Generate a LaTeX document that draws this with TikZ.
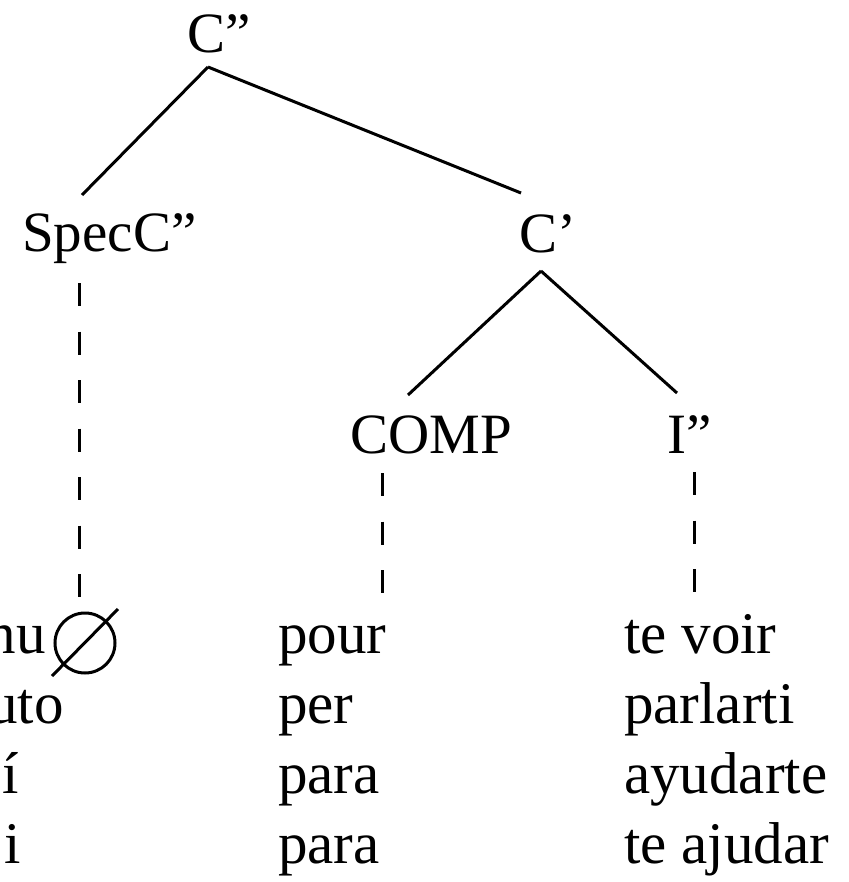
\documentclass[tikz,border=0pt]{standalone}
\usepackage{fontspec}
\setmainfont{Liberation Serif}
\usepackage{tikz}

\begin{document}
\begin{tikzpicture}[x=1pt, y=-1pt, every node/.style={font=\fontsize{57pt}{68pt}\selectfont, inner sep=0pt},
    lbl/.style={anchor=base west}, lblr/.style={anchor=base east},
    word/.style={lbl, font=\fontsize{59pt}{70pt}\selectfont}, wordr/.style={lblr, font=\fontsize{59pt}{70pt}\selectfont},
    branch/.style={line width=3pt}, trace/.style={line width=3pt, dash pattern=on 23pt off 25.5pt}]
        \useasboundingbox (0,0) rectangle (848,882);
        \clip (0,0) rectangle (848,882);
        % tree labels
        \node (cbar) [lbl] at (187,53) {C”};
        \node (spec) [lbl] at (22,252) {SpecC”};
        \node (cprime) [lbl] at (519,253) {C’};
        \node (comp) [lbl] at (350,453) {COMP};
        \node (ibar) [lbl] at (667,453) {I”};
        % empty specifier
        \node (zero) [circle, draw, line width=3pt, minimum size=60pt] at (85,643) {};
        \draw[branch] ([xshift=-33pt, yshift=-33pt]zero.center) -- ([xshift=33pt, yshift=34pt]zero.center);
        % rows: French, Italian, Spanish, Portuguese
        \node (fr0) [wordr] at (46,653) {nu};
        \node (it0) [wordr] at (64,723) {uto};
        \node (es0) [word] at (2,793) {í};
        \node (pt0) [word] at (4,863) {i};
        \node (fr1) [word] at (278,653) {pour};
        \node (it1) [word] at (278,723) {per};
        \node (es1) [word] at (278,793) {para};
        \node (pt1) [word] at (278,863) {para};
        \node (fr2) [word] at (624,653) {te voir};
        \node (it2) [word] at (624,723) {parlarti};
        \node (es2) [word] at (624,793) {ayudarte};
        \node (pt2) [word] at (624,863) {te ajudar};
        % branches
        \draw[branch] ([xshift=21pt, yshift=-14pt]cbar.base west) -- ([xshift=60pt, yshift=57pt]spec.base west);
        \draw[branch] ([xshift=21pt, yshift=-14pt]cbar.base west) -- ([xshift=2pt, yshift=60pt]cprime.base west);
        \draw[branch] ([xshift=22pt, yshift=-18pt]cprime.base west) -- ([xshift=58pt, yshift=58pt]comp.base west);
        \draw[branch] ([xshift=22pt, yshift=-18pt]cprime.base west) -- ([xshift=10pt, yshift=60pt]ibar.base west);
        % dashed links down to the words
        \draw[trace] ([xshift=57pt, yshift=-31pt]spec.base west) -- ([xshift=-6pt, yshift=15pt]zero.north);
        \draw[trace] ([xshift=32pt, yshift=-20pt]comp.base west) -- ([xshift=104pt, yshift=56pt]fr1.base west);
        \draw[trace] ([xshift=27pt, yshift=-19pt]ibar.base west) -- ([xshift=70pt, yshift=56pt]fr2.base west);
    \end{tikzpicture}
\end{document}
